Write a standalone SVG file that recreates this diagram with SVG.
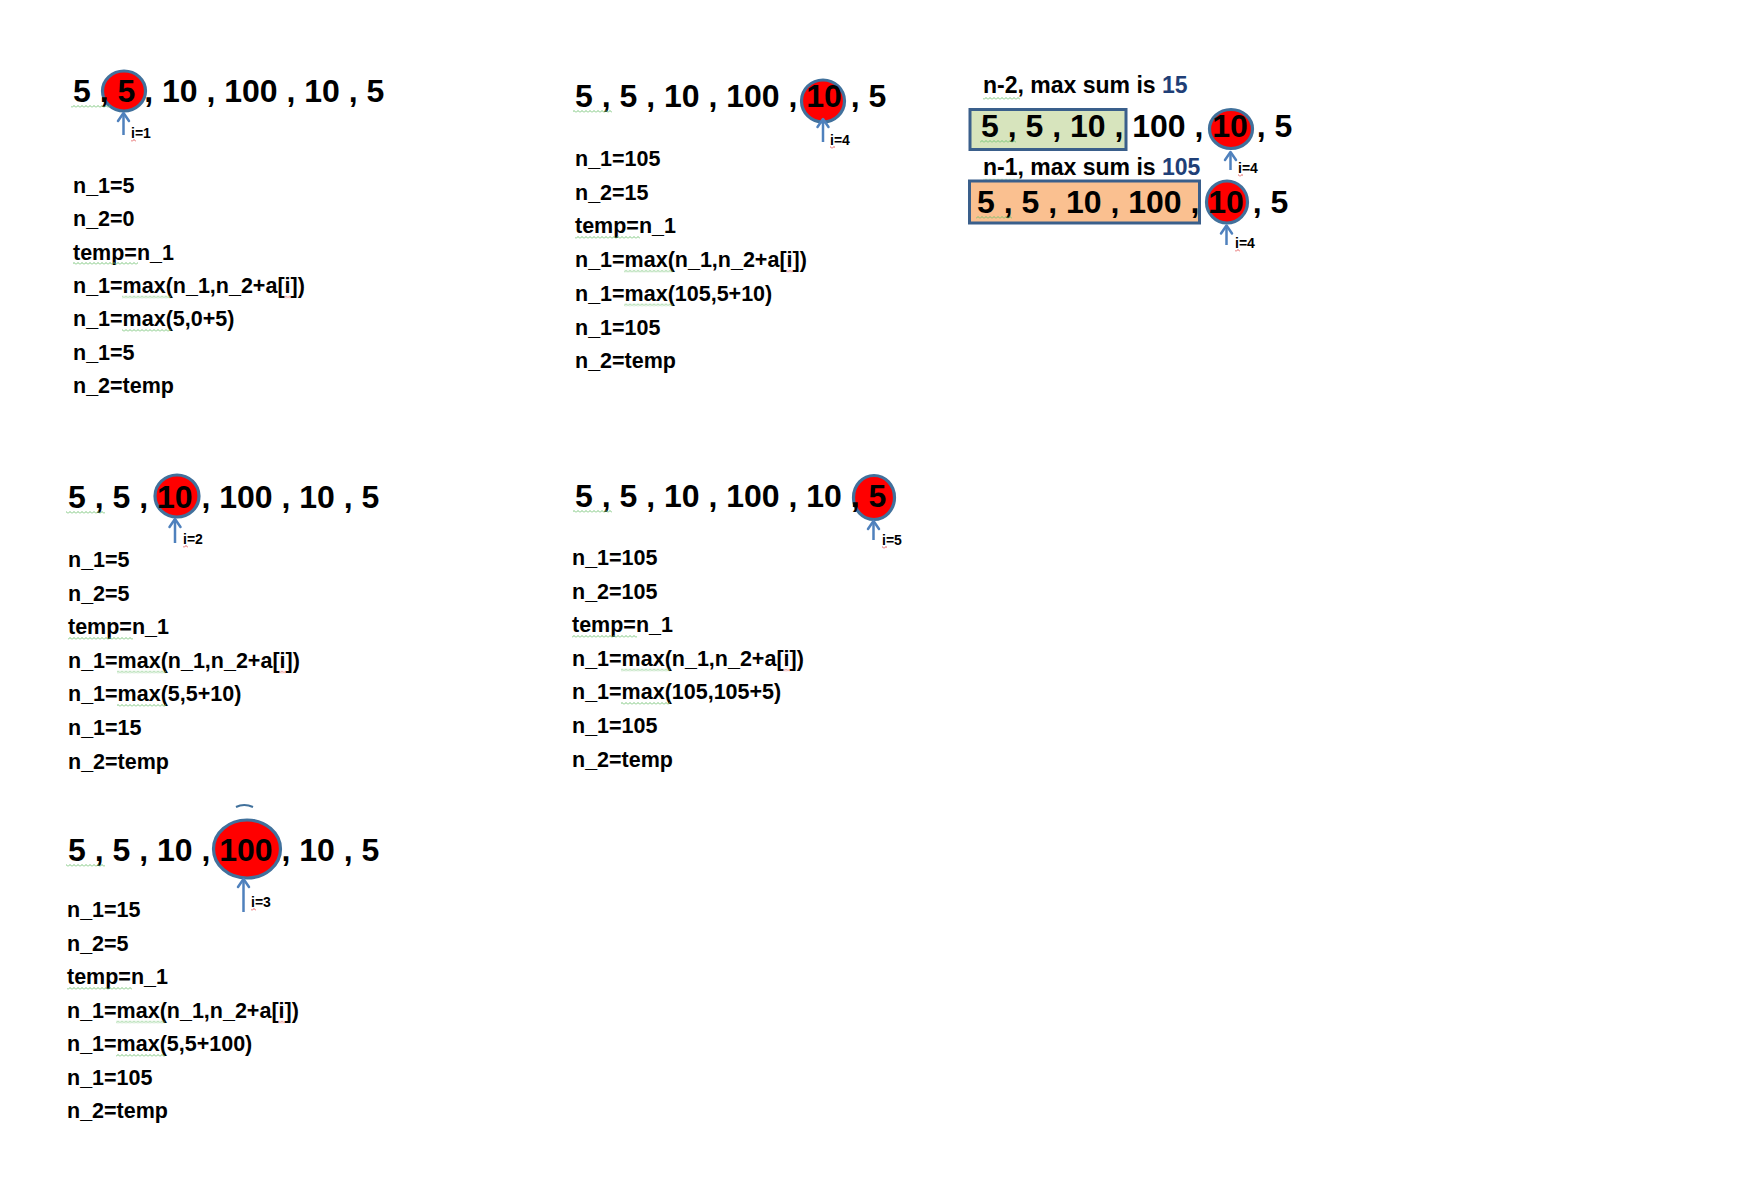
<svg xmlns="http://www.w3.org/2000/svg" width="1739" height="1182" viewBox="0 0 1739 1182">
<style>
.seq{font-family:"Liberation Sans",Arial,sans-serif;font-weight:bold;font-size:32px;fill:#000}
.ln{font-family:"Liberation Sans",Arial,sans-serif;font-weight:bold;font-size:21.5px;fill:#000}
.hd{font-family:"Liberation Sans",Arial,sans-serif;font-weight:bold;font-size:23px;fill:#000}
.lbl{font-family:"Liberation Sans",Arial,sans-serif;font-weight:bold;font-size:14px;fill:#000}
.navy{fill:#1f3f77}
.hl{fill:#ff0000;stroke:#41719c;stroke-width:3.2}
.ptr{stroke:#4f81bd;stroke-width:2.5;fill:none;marker-end:url(#chev)}
.gsq{fill:url(#gp)}
.rsq{fill:url(#rp)}
</style>
<defs>
<marker id="chev" markerUnits="userSpaceOnUse" markerWidth="20" markerHeight="20" viewBox="-10 -10 20 20" refX="0" refY="0" orient="auto">
<path d="M-8,-5.5 L0,0 L-8,5.5" fill="none" stroke="#4f81bd" stroke-width="2.5" stroke-linecap="round" stroke-linejoin="round"/>
</marker>
<pattern id="gp" patternUnits="userSpaceOnUse" width="4" height="3">
<path d="M0,2.5 L2,0.5 L4,2.5" fill="none" stroke="#6cc06c" stroke-width="0.9"/>
</pattern>
<pattern id="rp" patternUnits="userSpaceOnUse" width="4" height="3">
<path d="M0,2.5 L2,0.5 L4,2.5" fill="none" stroke="#e04848" stroke-width="0.9"/>
</pattern>
</defs>
<rect width="1739" height="1182" fill="#ffffff"/>

<!-- Panel i=1 -->
<g id="panel-i1">
<ellipse class="hl" cx="124" cy="91" rx="21.5" ry="20"/>
<text class="seq" x="73" y="102">5 , 5 , 10 , 100 , 10 , 5</text>
<rect class="gsq" x="71" y="0" width="39" height="3" transform="translate(0,105)"/>
<text class="lbl" x="131" y="138">i=1</text>
<rect class="rsq" x="131" y="0" width="5" height="3" transform="translate(0,139)"/>
<text class="ln" x="73" y="192.7">n_1=5</text>
<text class="ln" x="73" y="226.1">n_2=0</text>
<text class="ln" x="73" y="259.5">temp=n_1</text>
<text class="ln" x="73" y="292.9">n_1=max(n_1,n_2+a[i])</text>
<text class="ln" x="73" y="326.3">n_1=max(5,0+5)</text>
<text class="ln" x="73" y="359.7">n_1=5</text>
<text class="ln" x="73" y="393.1">n_2=temp</text>
<rect class="gsq" x="73" y="0" width="65" height="3" transform="translate(0,262)"/>
<rect class="gsq" x="122" y="0" width="49" height="3" transform="translate(0,295.5)"/>
<rect class="rsq" x="284" y="0" width="7" height="3" transform="translate(0,295.5)"/>
<rect class="gsq" x="122" y="0" width="49" height="3" transform="translate(0,329)"/>
</g>

<!-- Panel i=4 -->
<g id="panel-i4">
<ellipse class="hl" cx="823" cy="101" rx="21.5" ry="21"/>
<text class="seq" x="575" y="107">5 , 5 , 10 , 100 , 10 , 5</text>
<rect class="gsq" x="573" y="0" width="39" height="3" transform="translate(0,110)"/>
<text class="lbl" x="830" y="145">i=4</text>
<rect class="rsq" x="830" y="0" width="5" height="3" transform="translate(0,146)"/>
<text class="ln" x="575" y="166">n_1=105</text>
<text class="ln" x="575" y="199.7">n_2=15</text>
<text class="ln" x="575" y="233.4">temp=n_1</text>
<text class="ln" x="575" y="267.1">n_1=max(n_1,n_2+a[i])</text>
<text class="ln" x="575" y="300.8">n_1=max(105,5+10)</text>
<text class="ln" x="575" y="334.5">n_1=105</text>
<text class="ln" x="575" y="368.2">n_2=temp</text>
<rect class="gsq" x="575" y="0" width="65" height="3" transform="translate(0,236)"/>
<rect class="gsq" x="624" y="0" width="49" height="3" transform="translate(0,269.7)"/>
<rect class="rsq" x="786" y="0" width="7" height="3" transform="translate(0,269.7)"/>
<rect class="gsq" x="624" y="0" width="49" height="3" transform="translate(0,303.4)"/>
</g>

<!-- Panel compare -->
<g id="panel-compare">
<text class="hd" x="983" y="93">n-2, max sum is <tspan class="navy">15</tspan></text>
<rect class="gsq" x="983" y="0" width="37" height="3" transform="translate(0,97)"/>
<rect x="970" y="109.5" width="156" height="40" fill="#d7e4bd" stroke="#3a5f8b" stroke-width="3"/>
<ellipse class="hl" cx="1231" cy="129" rx="21.5" ry="19.5"/>
<text class="seq" x="981" y="137">5 , 5 , 10 , 100 , 10 , 5</text>
<rect class="gsq" x="980" y="0" width="36" height="3" transform="translate(0,140)"/>
<text class="lbl" x="1238" y="173">i=4</text>
<rect class="rsq" x="1238" y="0" width="5" height="3" transform="translate(0,174)"/>
<text class="hd" x="983" y="175">n-1, max sum is <tspan class="navy">105</tspan></text>
<rect class="gsq" x="983" y="0" width="37" height="3" transform="translate(0,178.5)"/>
<rect x="969.5" y="181" width="230" height="42" fill="#fac090" stroke="#3a5f8b" stroke-width="3"/>
<ellipse class="hl" cx="1227" cy="202" rx="20.5" ry="21"/>
<text class="seq" x="977" y="212.5">5 , 5 , 10 , 100 , 10 , 5</text>
<rect class="gsq" x="976" y="0" width="36" height="3" transform="translate(0,216)"/>
<text class="lbl" x="1235" y="248">i=4</text>
<rect class="rsq" x="1235" y="0" width="5" height="3" transform="translate(0,249)"/>
</g>

<!-- Panel i=2 -->
<g id="panel-i2">
<ellipse class="hl" cx="177" cy="496" rx="22" ry="21"/>
<text class="seq" x="68" y="508">5 , 5 , 10 , 100 , 10 , 5</text>
<rect class="gsq" x="66" y="0" width="39" height="3" transform="translate(0,511)"/>
<text class="lbl" x="183" y="544">i=2</text>
<rect class="rsq" x="183" y="0" width="5" height="3" transform="translate(0,545)"/>
<text class="ln" x="68" y="567">n_1=5</text>
<text class="ln" x="68" y="600.6">n_2=5</text>
<text class="ln" x="68" y="634.2">temp=n_1</text>
<text class="ln" x="68" y="667.8">n_1=max(n_1,n_2+a[i])</text>
<text class="ln" x="68" y="701.4">n_1=max(5,5+10)</text>
<text class="ln" x="68" y="735">n_1=15</text>
<text class="ln" x="68" y="768.6">n_2=temp</text>
<rect class="gsq" x="68" y="0" width="65" height="3" transform="translate(0,637)"/>
<rect class="gsq" x="117" y="0" width="49" height="3" transform="translate(0,670.5)"/>
<rect class="rsq" x="279" y="0" width="7" height="3" transform="translate(0,670.5)"/>
<rect class="gsq" x="117" y="0" width="49" height="3" transform="translate(0,704)"/>
</g>

<!-- Panel i=5 -->
<g id="panel-i5">
<ellipse class="hl" cx="874" cy="497.5" rx="20.5" ry="22"/>
<text class="seq" x="575" y="507">5 , 5 , 10 , 100 , 10 , 5</text>
<rect class="gsq" x="573" y="0" width="39" height="3" transform="translate(0,510)"/>
<text class="lbl" x="882" y="545">i=5</text>
<rect class="rsq" x="882" y="0" width="5" height="3" transform="translate(0,546)"/>
<text class="ln" x="572" y="565">n_1=105</text>
<text class="ln" x="572" y="598.6">n_2=105</text>
<text class="ln" x="572" y="632.2">temp=n_1</text>
<text class="ln" x="572" y="665.8">n_1=max(n_1,n_2+a[i])</text>
<text class="ln" x="572" y="699.4">n_1=max(105,105+5)</text>
<text class="ln" x="572" y="733">n_1=105</text>
<text class="ln" x="572" y="766.6">n_2=temp</text>
<rect class="gsq" x="572" y="0" width="65" height="3" transform="translate(0,635)"/>
<rect class="gsq" x="621" y="0" width="49" height="3" transform="translate(0,668.5)"/>
<rect class="rsq" x="783" y="0" width="7" height="3" transform="translate(0,668.5)"/>
<rect class="gsq" x="621" y="0" width="49" height="3" transform="translate(0,702)"/>
</g>

<!-- Panel i=3 -->
<g id="panel-i3">
<path d="M236,807 Q244,803 253,807" fill="none" stroke="#41719c" stroke-width="2"/>
<ellipse class="hl" cx="247" cy="849" rx="33.5" ry="29"/>
<text class="seq" x="68" y="861">5 , 5 , 10 , 100 , 10 , 5</text>
<rect class="gsq" x="66" y="0" width="39" height="3" transform="translate(0,864)"/>
<text class="lbl" x="251" y="907">i=3</text>
<rect class="rsq" x="251" y="0" width="5" height="3" transform="translate(0,908)"/>
<text class="ln" x="67" y="917">n_1=15</text>
<text class="ln" x="67" y="950.5">n_2=5</text>
<text class="ln" x="67" y="984">temp=n_1</text>
<text class="ln" x="67" y="1017.5">n_1=max(n_1,n_2+a[i])</text>
<text class="ln" x="67" y="1051">n_1=max(5,5+100)</text>
<text class="ln" x="67" y="1084.5">n_1=105</text>
<text class="ln" x="67" y="1118">n_2=temp</text>
<rect class="gsq" x="67" y="0" width="65" height="3" transform="translate(0,987)"/>
<rect class="gsq" x="116" y="0" width="49" height="3" transform="translate(0,1020.5)"/>
<rect class="rsq" x="278" y="0" width="7" height="3" transform="translate(0,1020.5)"/>
<rect class="gsq" x="116" y="0" width="49" height="3" transform="translate(0,1054)"/>
</g>

<!-- Pointers -->
<g id="connectors">
<line class="ptr" x1="123.5" y1="135" x2="123.5" y2="113"/>
<line class="ptr" x1="823" y1="142" x2="823" y2="119"/>
<line class="ptr" x1="1230.5" y1="170" x2="1230.5" y2="152"/>
<line class="ptr" x1="1226.5" y1="245" x2="1226.5" y2="225.5"/>
<line class="ptr" x1="175" y1="543" x2="175" y2="519"/>
<line class="ptr" x1="873.5" y1="540" x2="873.5" y2="521"/>
<line class="ptr" x1="243.5" y1="912" x2="243.5" y2="879"/>
</g>
</svg>
